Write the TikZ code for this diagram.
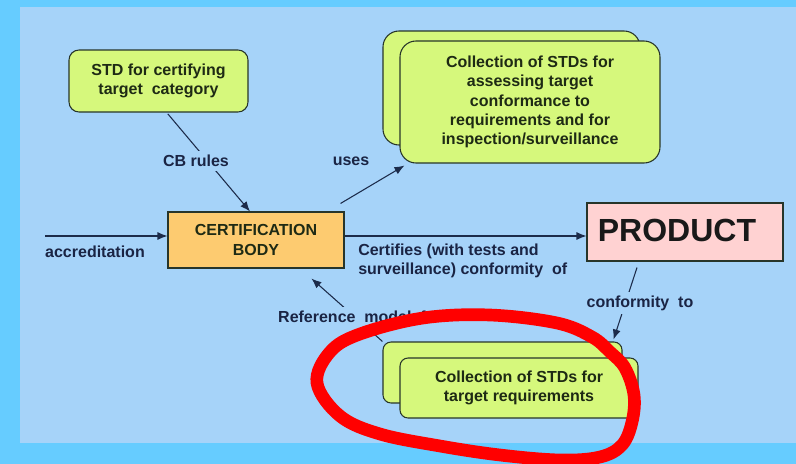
\documentclass[tikz,border=0pt]{standalone}
\usepackage{fontspec}
\setmainfont{Liberation Sans}
\usetikzlibrary{arrows.meta}
\definecolor{outerblue}{HTML}{66CCFF}
\definecolor{panelblue}{HTML}{A6D3F9}
\definecolor{limefill}{HTML}{D6F87C}
\definecolor{cbfill}{HTML}{FDCB70}
\definecolor{prodfill}{HTML}{FFD2D2}
\definecolor{edgecol}{HTML}{1C2B4A}
\definecolor{boxline}{HTML}{27352A}
\definecolor{labelcol}{HTML}{1A2444}
\definecolor{boxtext}{HTML}{1E2A14}
\definecolor{loopred}{HTML}{FF0000}
\begin{document}
\begin{tikzpicture}[x=0.75pt,y=-0.75pt,
  basefont/.style={font=\bfseries\fontsize{12}{14.5}\selectfont},
  limebox/.style={draw=boxline, line width=0.8pt, fill=limefill, inner sep=0pt,
    basefont, text=boxtext, align=center},
  cbbox/.style={draw=boxline, line width=0.8pt, fill=cbfill, inner sep=0pt,
    basefont, text=boxtext, align=center,
    minimum width=132pt, minimum height=42pt},
  prodbox/.style={draw=boxline, line width=0.8pt, fill=prodfill, inner sep=0pt,
    minimum width=147pt, minimum height=43.5pt},
  edgelabel/.style={basefont, text=labelcol, fill=panelblue, inner sep=3pt},
  freelabel/.style={basefont, text=labelcol, inner sep=0pt},
  conn/.style={draw=edgecol, line width=0.8pt},
  arrowconn/.style={conn, -{Latex[length=7.5pt,width=6pt]}},
  redloop/.style={draw=loopred, line width=9.5pt, line join=round}
]
\useasboundingbox (0,0) rectangle (796,464);
% backdrop and panel
\fill[outerblue] (0,0) rectangle (796,464);
\fill[panelblue] (20,7) rectangle (796,443);

% boxes
\node[limebox, rounded corners=7.5pt, minimum width=134.25pt, minimum height=46.5pt]
  (std) at (158.5,81) {STD for certifying\\target\ \ category};
\node[cbbox] (cb) at (256,240) {CERTIFICATION\\BODY};

\node[limebox, rounded corners=12pt, minimum width=192.75pt, minimum height=85.5pt]
  (collAb) at (511.5,88) {};
\node[limebox, rounded corners=12pt, minimum width=195pt, minimum height=91.5pt]
  (collA) at (530,102) {Collection of STDs for\\assessing target\\conformance to\\requirements and for\\inspection/surveillance};

\node[prodbox] (prod) at (685,232) {};
\node[font=\bfseries\fontsize{24}{28}\selectfont, text=black!90, inner sep=0pt]
  (prodtext) at (677,230) {PRODUCT};

\node[limebox, rounded corners=6pt, minimum width=179.25pt, minimum height=45.75pt]
  (collBb) at (502.5,372.5) {};
\node[limebox, rounded corners=6pt, minimum width=178.5pt, minimum height=45pt]
  (collB) at (519,388) {Collection of STDs for\\target requirements};

% connectors
\coordinate (accin) at (45,236);
\draw[arrowconn] (accin) -- (accin -| cb.west);
\node[freelabel] (acclabel) at (95,252) {accreditation};

\draw[arrowconn] ([xshift=7pt,yshift=-1pt]std.south) -- ([xshift=-4.5pt]cb.north);
\node[edgelabel] (cblabel) at (196,161) {CB rules};

\draw[arrowconn] ([shift={(-4,-8)}]cb.north east) -- ([shift={(5,2)}]collA.south west);
\node[freelabel] (useslabel) at (351,161) {uses};

\draw[arrowconn] ([yshift=3pt]cb.east) -- ([yshift=3pt]cb.east -| prod.west);
\node[freelabel, anchor=west, align=left] (certlabel) at (358,261)
  {Certifies (with tests and\\surveillance) conformity\ \ of};

\draw[arrowconn] ([shift={(-48,6)}]prod.south) -- ([shift={(-9,-2)}]collBb.north east);
\node[edgelabel] (conflabel) at (640,303) {conformity\ \ to};

\draw[arrowconn] (collBb.north west) -- ([shift={(144,10)}]cb.south west);
\node[edgelabel] (reflabel) at (360,317) {Reference\ \ model\ \ for};

% hand-drawn red loop around the lower collection
\draw[redloop] plot[smooth cycle, tension=0.6] coordinates {
  (317,383) (330,352) (360,334) (423,318) (490,315) (557,323)
  (592,337) (610,352) (625,368) (634,395) (632,422) (622,445)
  (600,457) (560,460) (500,455) (440,446) (380,434) (340,416)};
\end{tikzpicture}
\end{document}
